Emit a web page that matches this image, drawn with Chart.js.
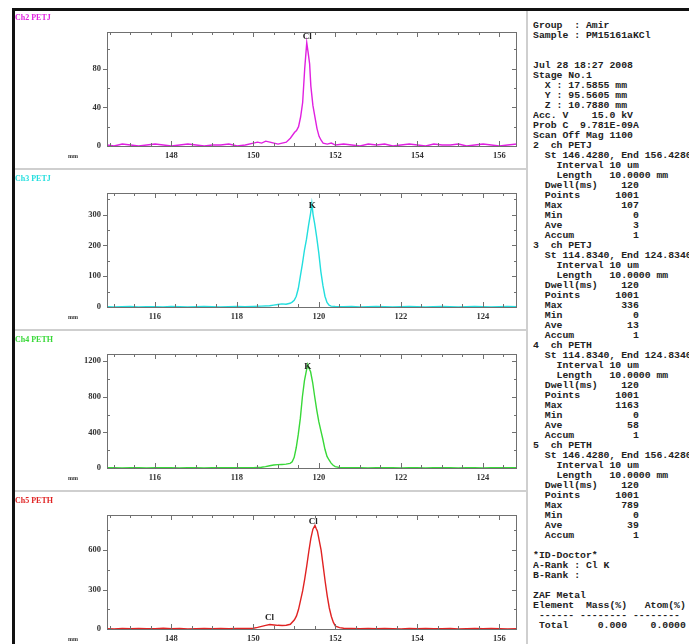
<!DOCTYPE html>
<html>
<head>
<meta charset="utf-8">
<script src="https://cdn.jsdelivr.net/npm/chart.js@4/dist/chart.umd.min.js"></script>
<style>
  html, body { margin: 0; padding: 0; background: #fff; overflow: hidden; }
  body { width: 689px; height: 644px; position: relative; }
  .bar { position: absolute; background: #111; }
  .sep { position: absolute; background: #cfcfcf; }
  canvas { position: absolute; left: 15px; }
  pre {
    position: absolute; left: 533px; top: 21px; width: 156px; margin: 0;
    overflow: hidden; white-space: pre;
    font: bold 9.8px/10px "Liberation Mono", monospace; color: #222;
  }
</style>
</head>
<body>
<div class="bar" style="left:12px;top:8px;width:677px;height:3px"></div>
<div class="bar" style="left:12px;top:8px;width:3px;height:636px"></div>
<div class="sep" style="left:526px;top:11px;width:2px;height:633px"></div>
<div class="sep" style="left:15px;top:168px;width:511px;height:2px"></div>
<div class="sep" style="left:15px;top:329px;width:511px;height:2px"></div>
<div class="sep" style="left:15px;top:490px;width:511px;height:2px"></div>

<canvas id="ch2" width="511" height="158" style="top:11px"></canvas>
<canvas id="ch3" width="511" height="158" style="top:172px"></canvas>
<canvas id="ch4" width="511" height="158" style="top:333px"></canvas>
<canvas id="ch5" width="511" height="158" style="top:494px"></canvas>

<pre>Group  : Amir
Sample : PM15161aKCl


Jul 28 18:27 2008
Stage No.1
  X : 17.5855 mm
  Y : 95.5605 mm
  Z : 10.7880 mm
Acc. V    15.0 kV
Prob C  9.781E-09A
Scan Off Mag 1100
2  ch PETJ
  St 146.4280, End 156.4280
    Interval 10 um
    Length   10.0000 mm
  Dwell(ms)    120
  Points      1001
  Max          107
  Min            0
  Ave            3
  Accum          1
3  ch PETJ
  St 114.8340, End 124.8340
    Interval 10 um
    Length   10.0000 mm
  Dwell(ms)    120
  Points      1001
  Max          336
  Min            0
  Ave           13
  Accum          1
4  ch PETH
  St 114.8340, End 124.8340
    Interval 10 um
    Length   10.0000 mm
  Dwell(ms)    120
  Points      1001
  Max         1163
  Min            0
  Ave           58
  Accum          1
5  ch PETH
  St 146.4280, End 156.4280
    Interval 10 um
    Length   10.0000 mm
  Dwell(ms)    120
  Points      1001
  Max          789
  Min            0
  Ave           39
  Accum          1

*ID-Doctor*
A-Rank : Cl K
B-Rank :

ZAF Metal
Element  Mass(%)   Atom(%)
 ------ -------- --------
 Total     0.000    0.0000</pre>

<script>
// scans: [position (mm), counts]
const ch2Scan = [[146.43,1],[146.6,0],[146.8,2],[147.0,1],[147.2,0],[147.4,1],[147.6,2],[147.8,1],[148.0,0],[148.2,1],[148.4,2],[148.6,1],[148.8,0],[149.0,1],[149.2,1],[149.4,2],[149.6,0],[149.8,1],[150.0,3],[150.1,4],[150.2,3],[150.3,5],[150.4,4],[150.5,3],[150.6,2],[150.7,3],[150.8,4],[150.9,8],[151.0,14],[151.05,16],[151.1,20],[151.15,30],[151.2,45],[151.25,80],[151.3,107],[151.33,98],[151.37,85],[151.4,62],[151.45,42],[151.5,30],[151.55,18],[151.6,10],[151.65,6],[151.7,3],[151.8,2],[151.9,3],[152.0,1],[152.2,2],[152.4,1],[152.6,0],[152.8,2],[153.0,1],[153.2,2],[153.4,0],[153.6,1],[153.8,2],[154.0,1],[154.2,0],[154.4,2],[154.6,1],[154.8,1],[155.0,2],[155.2,0],[155.4,1],[155.6,2],[155.8,1],[156.0,0],[156.2,1],[156.43,2]];
const ch3Scan = [[114.84,1],[115.0,0],[115.2,1],[115.4,2],[115.6,0],[115.8,1],[116.0,1],[116.2,0],[116.4,2],[116.6,1],[116.8,0],[117.0,1],[117.2,2],[117.4,1],[117.6,0],[117.8,1],[118.0,2],[118.2,1],[118.4,2],[118.6,3],[118.8,4],[118.9,6],[119.0,8],[119.1,10],[119.2,9],[119.3,12],[119.35,16],[119.4,22],[119.45,35],[119.5,60],[119.55,100],[119.6,140],[119.65,185],[119.7,220],[119.75,265],[119.8,305],[119.83,336],[119.86,300],[119.9,270],[119.95,225],[120.0,175],[120.05,115],[120.1,70],[120.15,35],[120.2,15],[120.25,6],[120.3,3],[120.4,2],[120.6,1],[120.8,2],[121.0,0],[121.2,1],[121.4,2],[121.6,1],[121.8,0],[122.0,1],[122.2,2],[122.4,1],[122.6,0],[122.8,1],[123.0,2],[123.2,1],[123.4,0],[123.6,1],[123.8,2],[124.0,1],[124.2,0],[124.4,1],[124.6,2],[124.83,1]];
const ch4Scan = [[114.84,2],[115.0,4],[115.2,1],[115.4,3],[115.6,2],[115.8,0],[116.0,3],[116.2,2],[116.4,4],[116.6,1],[116.8,2],[117.0,3],[117.2,1],[117.4,4],[117.6,2],[117.8,3],[118.0,2],[118.2,4],[118.4,3],[118.6,8],[118.7,15],[118.8,25],[118.9,33],[119.0,38],[119.1,40],[119.2,43],[119.3,52],[119.35,70],[119.4,120],[119.45,230],[119.5,380],[119.55,560],[119.6,800],[119.65,980],[119.7,1100],[119.73,1163],[119.76,1120],[119.8,1080],[119.85,960],[119.9,800],[119.95,650],[120.0,520],[120.05,420],[120.1,320],[120.15,210],[120.2,130],[120.25,90],[120.3,55],[120.35,30],[120.4,15],[120.5,6],[120.6,3],[120.8,4],[121.0,2],[121.2,1],[121.4,3],[121.6,2],[121.8,4],[122.0,1],[122.2,3],[122.4,2],[122.6,0],[122.8,3],[123.0,2],[123.2,4],[123.4,1],[123.6,2],[123.8,3],[124.0,1],[124.2,4],[124.4,2],[124.6,3],[124.83,2]];
const ch5Scan = [[146.43,3],[146.6,1],[146.8,4],[147.0,2],[147.2,5],[147.4,2],[147.6,3],[147.8,6],[148.0,2],[148.2,4],[148.4,1],[148.6,3],[148.8,5],[149.0,2],[149.2,4],[149.4,3],[149.6,5],[149.8,4],[150.0,6],[150.1,12],[150.2,20],[150.3,28],[150.4,34],[150.5,31],[150.6,28],[150.7,27],[150.8,29],[150.9,36],[151.0,70],[151.05,100],[151.1,150],[151.15,220],[151.2,290],[151.25,380],[151.3,480],[151.35,590],[151.4,690],[151.45,760],[151.5,789],[151.53,765],[151.56,745],[151.6,680],[151.65,600],[151.7,480],[151.75,360],[151.8,250],[151.85,160],[151.9,95],[151.95,50],[152.0,22],[152.1,10],[152.2,6],[152.4,4],[152.6,3],[152.8,5],[153.0,2],[153.2,4],[153.4,3],[153.6,1],[153.8,4],[154.0,2],[154.2,5],[154.4,3],[154.6,2],[154.8,4],[155.0,1],[155.2,3],[155.4,5],[155.6,2],[155.8,4],[156.0,3],[156.2,1],[156.43,3]];

// tick labels
const clTicks = [148, 150, 152, 154, 156];
const kTicks = [116, 118, 120, 122, 124];
const ch2YTicks = [0, 40, 80];
const ch3YTicks = [0, 100, 200, 300];
const ch4YTicks = [0, 400, 800, 1200];
const ch5YTicks = [0, 300, 600];

// peak markers: [position, counts, element]
const ch2Marks = [[151.31, 113, 'Cl']];
const ch3Marks = [[119.84, 330, 'K']];
const ch4Marks = [[119.73, 1142, 'K']];
const ch5Marks = [[150.39, 84, 'Cl'], [151.46, 818, 'Cl']];

const serif = 'bold 8px "Liberation Serif", serif';

const framePlugin = {
  id: 'frame',
  afterDatasetsDraw(chart) {
    const o = chart.options.plugins.frame;
    const { ctx, scales: { x, y } } = chart;
    ctx.save();
    ctx.fillStyle = '#222';
    ctx.font = 'bold 9px "Liberation Serif", serif';
    ctx.textAlign = 'center';
    ctx.textBaseline = 'middle';
    o.marks.forEach(([px, py, t]) => ctx.fillText(t, x.getPixelForValue(px), y.getPixelForValue(py)));
    ctx.restore();
  },
  afterDraw(chart) {
    const o = chart.options.plugins.frame;
    const { ctx, chartArea: a, scales: { x, y } } = chart;
    ctx.save();
    ctx.strokeStyle = '#707070';
    ctx.lineWidth = 1;
    ctx.strokeRect(a.left + 0.5, a.top + 0.5, a.right - a.left - 1, a.bottom - a.top);
    ctx.beginPath();
    for (let v = Math.ceil(x.min / 0.5) * 0.5; v <= x.max; v += 0.5) {
      const px = Math.round(x.getPixelForValue(v)) + 0.5;
      const len = v % 2 === 0 ? 5 : 3;
      ctx.moveTo(px, a.top); ctx.lineTo(px, a.top + len);
      ctx.moveTo(px, a.bottom); ctx.lineTo(px, a.bottom - len);
    }
    for (let v = o.yMinor; v <= y.max; v += o.yMinor) {
      const py = Math.round(y.getPixelForValue(v)) + 0.5;
      const major = o.yLabels.includes(v);
      ctx.moveTo(a.left - (major ? 4 : 0), py); ctx.lineTo(a.left + (major ? 0 : 3), py);
      ctx.moveTo(a.right, py); ctx.lineTo(a.right - (major ? 5 : 3), py);
    }
    ctx.stroke();
    // channel name, axis unit
    ctx.font = serif;
    ctx.textBaseline = 'middle';
    ctx.fillStyle = o.color;
    ctx.fillText(o.title, 0, 7);
    ctx.fillStyle = '#333';
    ctx.font = 'bold 6px "Liberation Serif", serif';
    ctx.fillText('mm', a.left - 39, a.bottom + 10);
    ctx.restore();
  }
};

const makePanel = (id, scan, color, title, xMin, xMax, xTicks, yMax, yTicks, yMinor, marks) => {
  const tickFont = { family: '"Liberation Serif", serif', size: 8.5, weight: 'bold' };
  new Chart(document.getElementById(id), {
    type: 'line',
    data: {
      datasets: [{
        data: scan.map(([x, y]) => ({ x, y })),
        borderColor: color,
        borderWidth: 1.4,
        pointRadius: 0,
        tension: 0
      }]
    },
    options: {
      responsive: false,
      animation: false,
      events: [],
      layout: { padding: { left: 0, right: 9, top: 21, bottom: 0 } },
      scales: {
        x: {
          type: 'linear', min: xMin, max: xMax,
          afterBuildTicks: s => { s.ticks = xTicks.map(v => ({ value: v })); },
          afterFit: s => { s.height = 23; },
          ticks: { padding: 5, color: '#333', font: tickFont, maxRotation: 0, autoSkip: false, callback: v => String(v) },
          grid: { display: false, drawTicks: false },
          border: { display: false }
        },
        y: {
          min: 0, max: yMax,
          afterBuildTicks: s => { s.ticks = yTicks.map(v => ({ value: v })); },
          afterFit: s => { s.width = 92; },
          ticks: { padding: 6, color: '#333', font: tickFont, callback: v => String(v) },
          grid: { display: false, drawTicks: false },
          border: { display: false }
        }
      },
      plugins: {
        legend: { display: false },
        tooltip: { enabled: false },
        frame: { color, title, yLabels: yTicks, yMinor, marks }
      }
    },
    plugins: [framePlugin]
  });
};

document.addEventListener('DOMContentLoaded', () => {
  makePanel('ch2', ch2Scan, '#e020e0', 'Ch2 PETJ', 146.428, 156.428, clTicks, 118, ch2YTicks, 20, ch2Marks);
  makePanel('ch3', ch3Scan, '#22dede', 'Ch3 PETJ', 114.834, 124.834, kTicks, 370, ch3YTicks, 50, ch3Marks);
  makePanel('ch4', ch4Scan, '#38d838', 'Ch4 PETH', 114.834, 124.834, kTicks, 1280, ch4YTicks, 200, ch4Marks);
  makePanel('ch5', ch5Scan, '#e02222', 'Ch5 PETH', 146.428, 156.428, clTicks, 868, ch5YTicks, 150, ch5Marks);
});
</script>
</body>
</html>
